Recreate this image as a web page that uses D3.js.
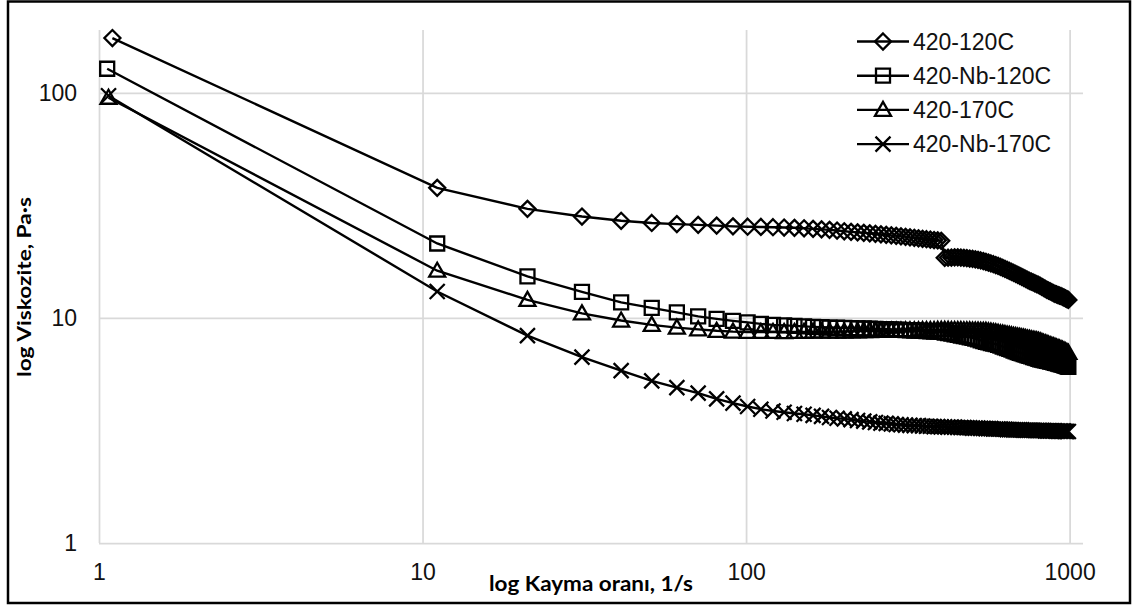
<!DOCTYPE html>
<html>
<head>
<meta charset="utf-8">
<script src="https://cdn.jsdelivr.net/npm/d3@7"></script>
<style>
  body { margin: 0; background: #fff; }
  text { font-family: "Liberation Sans", Arial, sans-serif; }
  .title { font-family: Lato, "Open Sans", sans-serif; font-weight: bold; }
</style>
</head>
<body>
<div id="chart"></div>
<script>
// shear rate (1/s), shared by all four runs after the first reading
const rate = [
  11.1, 21.1, 31.1, 41.1, 51.1, 61.1, 71.1, 81.1, 91.1, 101.1,
  111.1, 121.1, 131.1, 141.1, 151.1, 161.1, 171.1, 181.1, 191.1, 201.1,
  211.1, 221.1, 231.1, 241.1, 251.1, 261.1, 271.1, 281.1, 291.1, 301.1,
  311.1, 321.1, 331.1, 341.1, 351.1, 361.1, 371.1, 381.1, 391.1, 401.1,
  411.1, 421.1, 431.1, 441.1, 451.1, 461.1, 471.1, 481.1, 491.1, 501.1,
  511.1, 521.1, 531.1, 541.1, 551.1, 561.1, 571.1, 581.1, 591.1, 601.1,
  611.1, 621.1, 631.1, 641.1, 651.1, 661.1, 671.1, 681.1, 691.1, 701.1,
  711.1, 721.1, 731.1, 741.1, 751.1, 761.1, 771.1, 781.1, 791.1, 801.1,
  811.1, 821.1, 831.1, 841.1, 851.1, 861.1, 871.1, 881.1, 891.1, 901.1,
  911.1, 921.1, 931.1, 941.1, 951.1, 961.1, 971.1, 981.1, 991.1
];
// first reading of each run
const firstRate = [1.1, 1.06, 1.07, 1.07];

const seriesNames = ["420-120C", "420-Nb-120C", "420-170C", "420-Nb-170C"];

// viscosity (Pa·s)
const visc120 = [
  175, 37.8, 30.5, 28.2, 27.0, 26.4, 26.1, 25.9, 25.7, 25.5,
  25.4, 25.35, 25.28, 25.2, 25.12, 25.0, 24.86, 24.73, 24.61, 24.43,
  24.24, 24.11, 23.99, 23.87, 23.74, 23.62, 23.5, 23.38, 23.26, 23.14,
  23.03, 22.91, 22.79, 22.67, 22.56, 22.44, 22.35, 22.26, 22.17, 22.08,
  21.99, 18.48, 18.5, 18.53, 18.57, 18.57, 18.53, 18.48, 18.42, 18.35,
  18.29, 18.2, 18.1, 17.99, 17.86, 17.74, 17.6, 17.45, 17.31, 17.17,
  17.02, 16.85, 16.68, 16.51, 16.34, 16.18, 16.01, 15.85, 15.69, 15.53,
  15.37, 15.21, 15.06, 14.91, 14.75, 14.6, 14.48, 14.36, 14.25, 14.13,
  14.02, 13.87, 13.73, 13.59, 13.45, 13.32, 13.21, 13.1, 13.0, 12.89,
  12.79, 12.71, 12.63, 12.56, 12.48, 12.4, 12.3, 12.21, 12.11, 12.02
];
const viscNb120 = [
  127.8, 21.4, 15.3, 13.05, 11.72, 11.08, 10.58, 10.15, 9.9, 9.7,
  9.55, 9.41, 9.31, 9.26, 9.21, 9.17, 9.12, 9.09, 9.06, 9.04,
  9.03, 9.01, 8.99, 8.97, 8.95, 8.94, 8.92, 8.9, 8.88, 8.86,
  8.84, 8.83, 8.81, 8.79, 8.77, 8.75, 8.74, 8.72, 8.7, 8.68,
  8.67, 8.61, 8.56, 8.51, 8.46, 8.4, 8.35, 8.3, 8.25, 8.2,
  8.15, 8.08, 8.02, 7.95, 7.89, 7.82, 7.78, 7.73, 7.68, 7.64,
  7.59, 7.53, 7.46, 7.4, 7.34, 7.28, 7.22, 7.16, 7.1, 7.05,
  6.99, 6.95, 6.91, 6.86, 6.82, 6.78, 6.74, 6.7, 6.66, 6.62,
  6.58, 6.55, 6.52, 6.5, 6.47, 6.44, 6.42, 6.39, 6.37, 6.34,
  6.31, 6.29, 6.26, 6.24, 6.21, 6.18, 6.15, 6.12, 6.09, 6.06
];
const visc170 = [
  95, 16.2, 12.02, 10.47, 9.73, 9.31, 9.05, 8.89, 8.76, 8.69,
  8.66, 8.66, 8.66, 8.65, 8.66, 8.67, 8.68, 8.68, 8.69, 8.69,
  8.7, 8.71, 8.72, 8.73, 8.74, 8.75, 8.76, 8.77, 8.78, 8.78,
  8.79, 8.8, 8.8, 8.81, 8.81, 8.82, 8.82, 8.83, 8.83, 8.84,
  8.84, 8.84, 8.84, 8.83, 8.83, 8.82, 8.82, 8.81, 8.81, 8.8,
  8.79, 8.78, 8.78, 8.77, 8.76, 8.75, 8.72, 8.69, 8.66, 8.62,
  8.58, 8.54, 8.51, 8.47, 8.44, 8.4, 8.37, 8.33, 8.3, 8.27,
  8.23, 8.2, 8.17, 8.13, 8.1, 8.07, 8.03, 8.0, 7.97, 7.94,
  7.9, 7.86, 7.8, 7.75, 7.7, 7.66, 7.61, 7.56, 7.52, 7.47,
  7.43, 7.39, 7.34, 7.3, 7.25, 7.21, 7.15, 7.1, 7.04, 6.99
];
const viscNb170 = [
  97, 13.1, 8.34, 6.69, 5.83, 5.25, 4.9, 4.63, 4.37, 4.18,
  4.04, 3.93, 3.86, 3.81, 3.76, 3.73, 3.69, 3.65, 3.61, 3.58,
  3.56, 3.53, 3.5, 3.48, 3.45, 3.43, 3.41, 3.4, 3.38, 3.36,
  3.35, 3.34, 3.33, 3.32, 3.32, 3.31, 3.3, 3.3, 3.29, 3.29,
  3.28, 3.28, 3.27, 3.27, 3.27, 3.26, 3.26, 3.26, 3.25, 3.25,
  3.24, 3.24, 3.24, 3.23, 3.23, 3.22, 3.22, 3.22, 3.21, 3.21,
  3.21, 3.21, 3.2, 3.2, 3.19, 3.19, 3.19, 3.18, 3.18, 3.18,
  3.18, 3.18, 3.17, 3.17, 3.17, 3.17, 3.17, 3.17, 3.16, 3.16,
  3.16, 3.16, 3.16, 3.16, 3.15, 3.15, 3.15, 3.15, 3.15, 3.15,
  3.15, 3.14, 3.14, 3.14, 3.14, 3.14, 3.14, 3.13, 3.13, 3.13
];

const xTicks = [1, 10, 100, 1000];
const yTicks = [1, 10, 100];

const width = 1137, height = 607;
const plotLeft = 99, plotRight = 1083, plotTop = 30, plotBottom = 543;

const markers = {
  diamond: "M0,-8L8,0L0,8L-8,0Z",
  square: "M-7,-7H7V7H-7Z",
  triangle: "M0,-8L8,6H-8Z",
  cross: "M-7.5,-7.5L7.5,7.5M7.5,-7.5L-7.5,7.5"
};
const markerOf = ["diamond", "square", "triangle", "cross"];

const series = [visc120, viscNb120, visc170, viscNb170].map((vals, i) => ({
  name: seriesNames[i],
  marker: markerOf[i],
  points: vals.map((v, k) => [k === 0 ? firstRate[i] : rate[k - 1], v])
}));

const svg = d3.select("#chart").append("svg")
  .attr("width", width).attr("height", height);

svg.append("rect")
  .attr("x", 8).attr("y", 1.5)
  .attr("width", 1122).attr("height", 601.5)
  .attr("fill", "#fff").attr("stroke", "#000").attr("stroke-width", 2.5);

const x = d3.scaleLog().domain([1, 1100]).range([plotLeft, plotRight]);
const y = d3.scaleLog().domain([1, 190]).range([plotBottom, plotTop]);

// grid
svg.append("g")
  .attr("transform", `translate(0,${plotBottom})`)
  .call(d3.axisBottom(x).tickValues(xTicks).tickSize(-(plotBottom - plotTop)).tickFormat(""))
  .call(g => g.select(".domain").remove())
  .call(g => g.selectAll("line").attr("stroke", "#d9d9d9").attr("stroke-width", 1.75));
svg.append("g")
  .attr("transform", `translate(${plotLeft},0)`)
  .call(d3.axisLeft(y).tickValues(yTicks).tickSize(-(plotRight - plotLeft)).tickFormat(""))
  .call(g => g.select(".domain").remove())
  .call(g => g.selectAll("line").attr("stroke", "#d9d9d9").attr("stroke-width", 1.75));

// tick labels
svg.append("g")
  .attr("transform", `translate(0,${plotBottom})`)
  .call(d3.axisBottom(x).tickValues(xTicks).tickSize(0).tickPadding(21).tickFormat(d3.format("d")))
  .call(g => g.select(".domain").remove())
  .call(g => g.selectAll("text").attr("font-size", 23).attr("fill", "#111")
    .style("font-family", '"Liberation Sans", Arial, sans-serif'));
svg.append("g")
  .attr("transform", `translate(${plotLeft},0)`)
  .call(d3.axisLeft(y).tickValues(yTicks).tickSize(0).tickPadding(22).tickFormat(d3.format("d")))
  .call(g => g.select(".domain").remove())
  .call(g => g.selectAll("text").attr("font-size", 23).attr("fill", "#111")
    .style("font-family", '"Liberation Sans", Arial, sans-serif'));

// axis titles
svg.append("text").attr("class", "title")
  .attr("x", 591).attr("y", 591)
  .attr("text-anchor", "middle")
  .attr("font-size", 21)
  .attr("textLength", 204).attr("lengthAdjust", "spacingAndGlyphs")
  .text("log Kayma oranı, 1/s");
svg.append("text").attr("class", "title")
  .attr("transform", "translate(31,287) rotate(-90)")
  .attr("text-anchor", "middle")
  .attr("font-size", 18)
  .attr("textLength", 180).attr("lengthAdjust", "spacingAndGlyphs")
  .text("log Viskozite, Pa·s");

// series
const line = d3.line().x(d => x(d[0])).y(d => y(d[1]));
series.forEach(s => {
  const g = svg.append("g");
  g.append("path")
    .attr("d", line(s.points))
    .attr("fill", "none").attr("stroke", "#000").attr("stroke-width", 2.4);
  g.selectAll("path.mk").data(s.points).join("path")
    .attr("class", "mk")
    .attr("transform", d => `translate(${x(d[0])},${y(d[1])})`)
    .attr("d", markers[s.marker])
    .attr("fill", "none").attr("stroke", "#000").attr("stroke-width", 2.3);
});

// legend
const legend = svg.append("g");
series.forEach((s, i) => {
  const ly = 41.5 + i * 34.2;
  const row = legend.append("g").attr("transform", `translate(857,${ly})`);
  row.append("line").attr("x1", 0).attr("x2", 52)
    .attr("stroke", "#000").attr("stroke-width", 2.4);
  row.append("path").attr("transform", "translate(26,0)")
    .attr("d", markers[s.marker])
    .attr("fill", "none").attr("stroke", "#000").attr("stroke-width", 2.3);
  row.append("text").attr("x", 56).attr("dy", "0.35em")
    .attr("font-size", 23).attr("fill", "#111")
    .text(s.name);
});
</script>
</body>
</html>
